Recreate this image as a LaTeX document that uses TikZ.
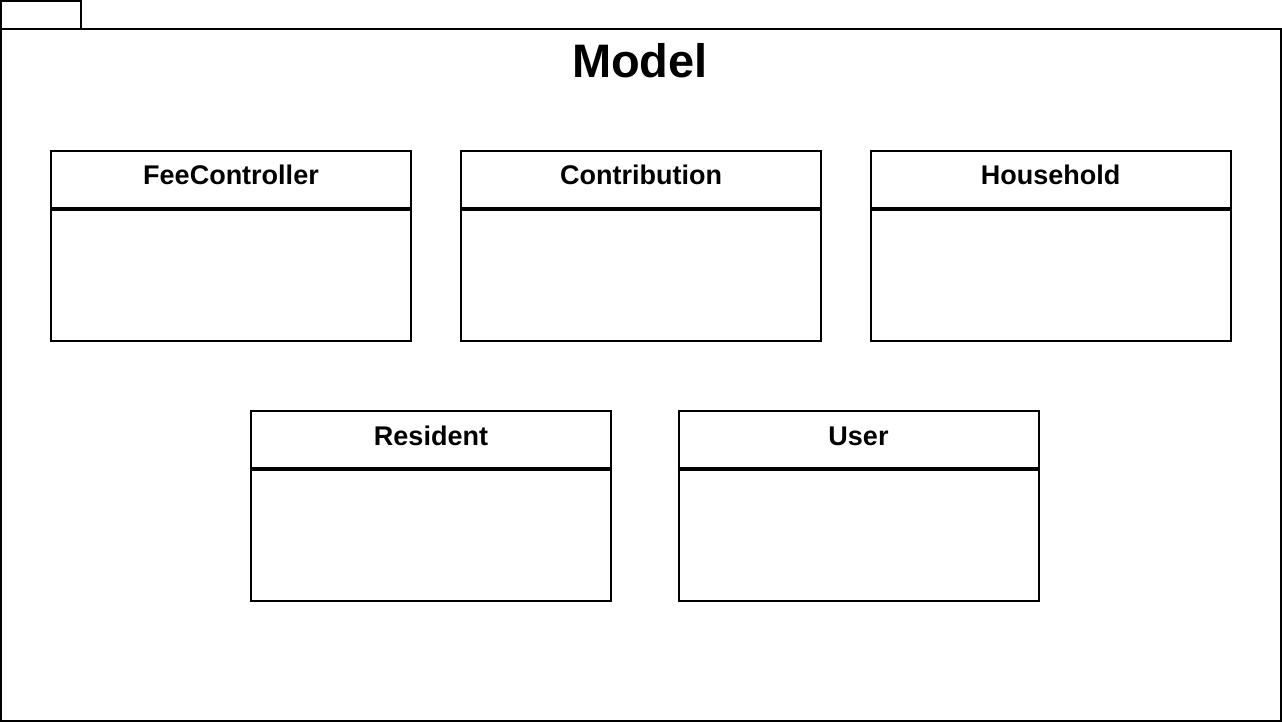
\documentclass[tikz,border=0pt]{standalone}
\usepackage{fontspec}
\setmainfont{Liberation Sans}
\tikzset{
  classhead/.style={draw, line width=2pt, minimum width=360pt, minimum height=57pt, inner sep=0pt,
    text height=19.3pt, text depth=8.3pt, font=\fontsize{27}{30}\selectfont\bfseries},
  classbody/.style={draw, line width=2pt, minimum width=360pt, minimum height=133pt, inner sep=0pt},
  headline/.style={line width=3.5pt},
}
\begin{document}
\begin{tikzpicture}[x=1pt,y=-1pt]
  \useasboundingbox (0,0) rectangle (1282,722);
  % package
  \node[draw, line width=2pt, minimum width=80pt, minimum height=28pt, inner sep=0pt] (tab) at (41,15) {};
  \node[draw, line width=2pt, minimum width=1280pt, minimum height=692pt, inner sep=0pt] (pkg) at (641,375) {};
  \node[font=\fontsize{47}{50}\selectfont\bfseries] (title) at (640,61) {Model};
  % classes
  \node[classhead] (fc) at (231,179.5) {FeeController};
  \node[classbody] (fcb) at (231,274.5) {};
  \node[classhead] (co) at (641,179.5) {Contribution};
  \node[classbody] (cob) at (641,274.5) {};
  \node[classhead] (ho) at (1050.5,179.5) {Household};
  \node[classbody] (hob) at (1050.5,274.5) {};
  \node[classhead] (re) at (431,439.5) {Resident};
  \node[classbody] (reb) at (431,534.5) {};
  \node[classhead] (us) at (858.5,439.5) {User};
  \node[classbody] (usb) at (858.5,534.5) {};
  \draw[headline] (fc.south west) -- (fc.south east);
  \draw[headline] (co.south west) -- (co.south east);
  \draw[headline] (ho.south west) -- (ho.south east);
  \draw[headline] (re.south west) -- (re.south east);
  \draw[headline] (us.south west) -- (us.south east);
\end{tikzpicture}
\end{document}
